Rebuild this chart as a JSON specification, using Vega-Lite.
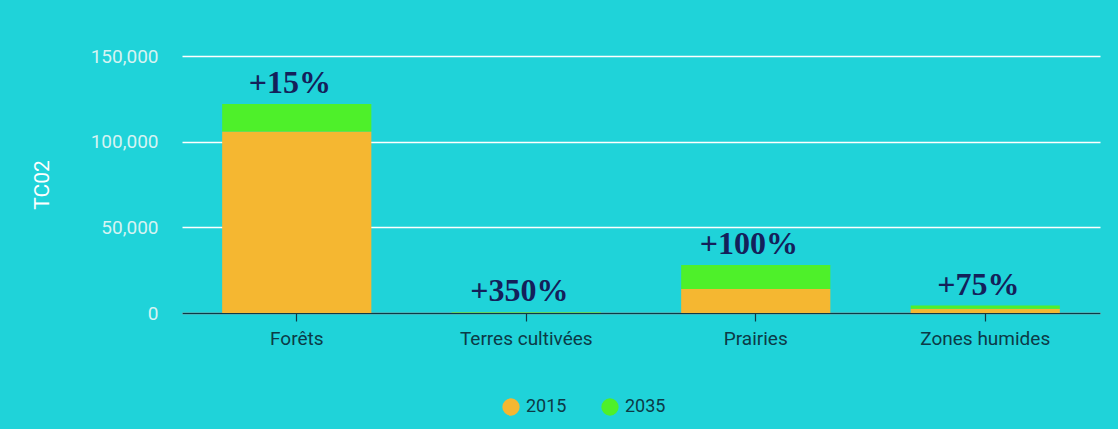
{
  "$schema": "https://vega.github.io/schema/vega-lite/v6.json",
  "autosize": "none",
  "width": 918,
  "height": 257,
  "padding": {"left": 182, "top": 56, "right": 18, "bottom": 116},
  "background": "#1fd3d9",
  "config": {
    "view": {"stroke": null},
    "font": "Roboto"
  },
  "data": {
    "values": [
      {"cat": "Forêts", "year": "2015", "value": 106000, "label": "+15%"},
      {"cat": "Forêts", "year": "2035", "value": 16000, "label": "+15%"},
      {"cat": "Terres cultivées", "year": "2015", "value": 100, "label": "+350%"},
      {"cat": "Terres cultivées", "year": "2035", "value": 350, "label": "+350%"},
      {"cat": "Prairies", "year": "2015", "value": 14000, "label": "+100%"},
      {"cat": "Prairies", "year": "2035", "value": 14000, "label": "+100%"},
      {"cat": "Zones humides", "year": "2015", "value": 2500, "label": "+75%"},
      {"cat": "Zones humides", "year": "2035", "value": 1875, "label": "+75%"}
    ]
  },
  "encoding": {
    "x": {
      "field": "cat",
      "type": "nominal",
      "sort": ["Forêts", "Terres cultivées", "Prairies", "Zones humides"],
      "scale": {"paddingInner": 0.35, "paddingOuter": 0.175},
      "axis": {
        "title": null,
        "labelAngle": 0,
        "labelFont": "Roboto",
        "labelFontSize": 19,
        "labelColor": "#0c3a46",
        "labelPadding": 8,
        "domainColor": "#0c3a46",
        "domainWidth": 1.5,
        "tickColor": "#0c3a46",
        "tickSize": 8,
        "tickWidth": 1.2
      }
    }
  },
  "layer": [
    {
      "mark": {"type": "bar"},
      "encoding": {
        "y": {
          "field": "value",
          "type": "quantitative",
          "aggregate": "sum",
          "stack": "zero",
          "scale": {"domain": [0, 150000], "nice": false},
          "axis": {
            "title": "TC02",
            "titleFont": "Roboto",
            "titleFontSize": 21,
            "titleFontWeight": "normal",
            "titleColor": "#ffffff",
            "titlePadding": 38,
            "values": [0, 50000, 100000, 150000],
            "format": ",d",
            "labelFont": "Roboto",
            "labelFontSize": 19,
            "labelColor": "#d6f3f3",
            "labelPadding": 24,
            "domain": false,
            "ticks": false,
            "grid": true,
            "gridColor": "#ffffff",
            "gridWidth": 1.5
          }
        },
        "color": {
          "field": "year",
          "type": "nominal",
          "scale": {"domain": ["2015", "2035"], "range": ["#f5b731", "#4ef02a"]},
          "legend": {
            "title": null,
            "orient": "none",
            "direction": "horizontal",
            "legendX": 320,
            "legendY": 342,
            "symbolType": "circle",
            "symbolSize": 300,
            "symbolStrokeWidth": 0,
            "labelFont": "Roboto",
            "labelFontSize": 18,
            "labelColor": "#0c3a46",
            "columnPadding": 34,
            "labelOffset": 6
          }
        },
        "order": {"field": "year", "type": "nominal", "sort": "ascending"}
      }
    },
    {
      "transform": [
        {"aggregate": [{"op": "sum", "field": "value", "as": "total"}], "groupby": ["cat", "label"]}
      ],
      "mark": {
        "type": "text",
        "font": "Liberation Serif",
        "fontWeight": "bold",
        "fontSize": 32,
        "color": "#14205a",
        "baseline": "alphabetic",
        "dy": -11,
        "dx": -7
      },
      "encoding": {
        "y": {"field": "total", "type": "quantitative"},
        "text": {"field": "label"}
      }
    }
  ]
}
